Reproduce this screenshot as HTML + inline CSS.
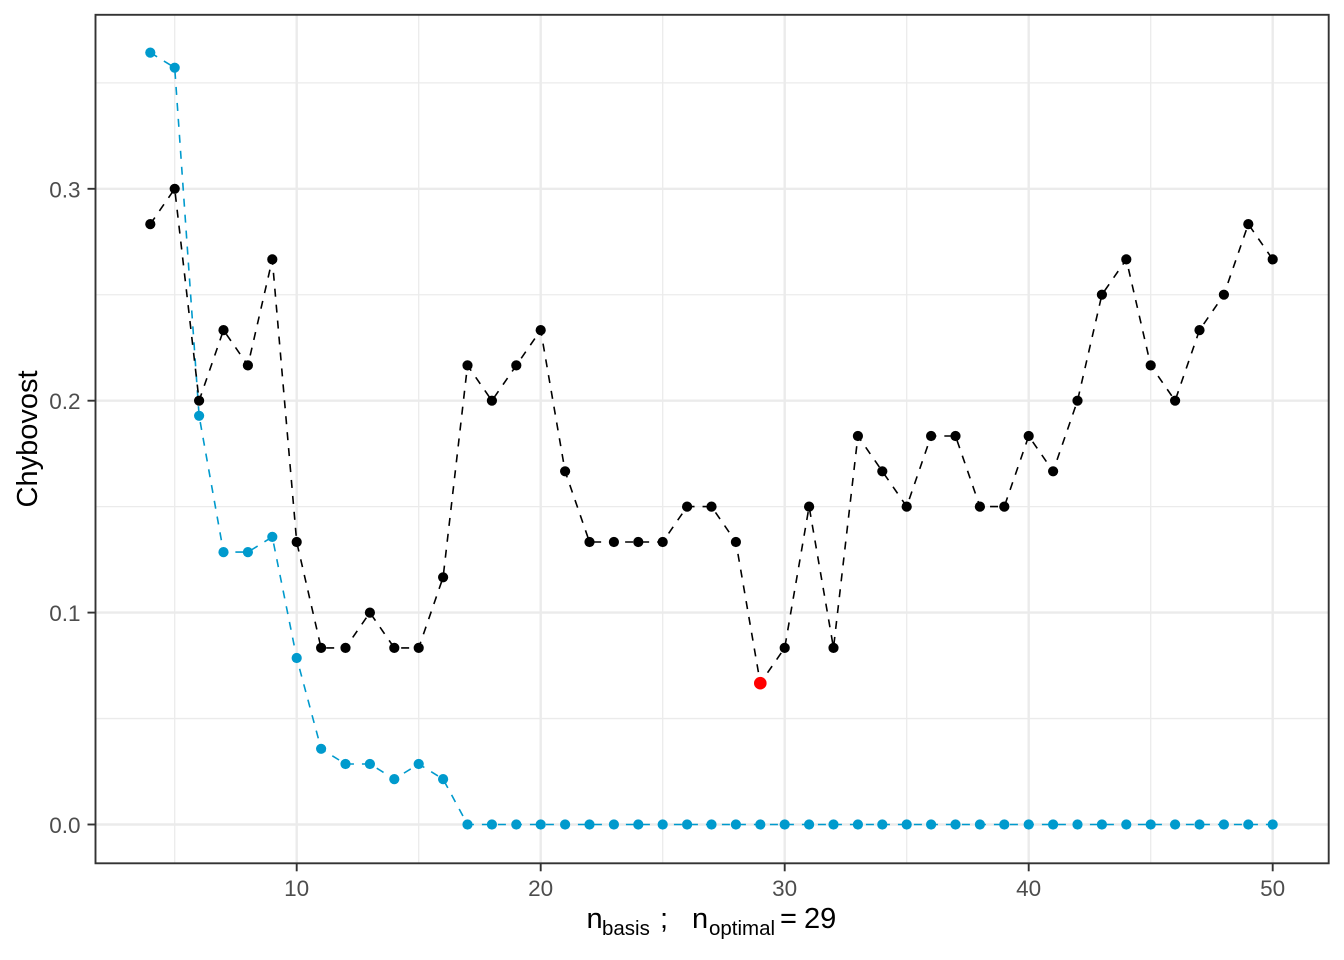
<!DOCTYPE html>
<html><head><meta charset="utf-8"><style>
html,body{margin:0;padding:0;background:#fff;}
svg{display:block;}
text{font-family:"Liberation Sans",Arial,sans-serif;}
</style></head><body>
<svg width="1344" height="960" viewBox="0 0 1344 960" xmlns="http://www.w3.org/2000/svg">
<rect width="1344" height="960" fill="#fff"/>
<!-- minor grid -->
<g stroke="#EBEBEB" stroke-width="1.3" fill="none">
<line x1="95.5" x2="1328.7" y1="718.55" y2="718.55"/>
<line x1="95.5" x2="1328.7" y1="506.65" y2="506.65"/>
<line x1="95.5" x2="1328.7" y1="294.75" y2="294.75"/>
<line x1="95.5" x2="1328.7" y1="82.85" y2="82.85"/>
<line y1="14.8" y2="863.3" x1="174.7" x2="174.7"/>
<line y1="14.8" y2="863.3" x1="418.7" x2="418.7"/>
<line y1="14.8" y2="863.3" x1="662.7" x2="662.7"/>
<line y1="14.8" y2="863.3" x1="906.7" x2="906.7"/>
<line y1="14.8" y2="863.3" x1="1150.7" x2="1150.7"/>
</g>
<!-- major grid -->
<g stroke="#EBEBEB" stroke-width="2.4" fill="none">
<line x1="95.5" x2="1328.7" y1="824.5" y2="824.5"/>
<line x1="95.5" x2="1328.7" y1="612.6" y2="612.6"/>
<line x1="95.5" x2="1328.7" y1="400.7" y2="400.7"/>
<line x1="95.5" x2="1328.7" y1="188.8" y2="188.8"/>
<line y1="14.8" y2="863.3" x1="296.7" x2="296.7"/>
<line y1="14.8" y2="863.3" x1="540.7" x2="540.7"/>
<line y1="14.8" y2="863.3" x1="784.7" x2="784.7"/>
<line y1="14.8" y2="863.3" x1="1028.7" x2="1028.7"/>
<line y1="14.8" y2="863.3" x1="1272.7" x2="1272.7"/>
</g>

<!-- blue series -->
<polyline fill="none" stroke="#009ACD" stroke-width="1.6" stroke-dasharray="8 8" points="150.3,52.6 174.7,67.7 199.1,415.8 223.5,552.1 247.9,552.1 272.3,536.9 296.7,658.0 321.1,748.8 345.5,764.0 369.9,764.0 394.3,779.1 418.7,764.0 443.1,779.1 467.5,824.5 491.9,824.5 516.3,824.5 540.7,824.5 565.1,824.5 589.5,824.5 613.9,824.5 638.3,824.5 662.7,824.5 687.1,824.5 711.5,824.5 735.9,824.5 760.3,824.5 784.7,824.5 809.1,824.5 833.5,824.5 857.9,824.5 882.3,824.5 906.7,824.5 931.1,824.5 955.5,824.5 979.9,824.5 1004.3,824.5 1028.7,824.5 1053.1,824.5 1077.5,824.5 1101.9,824.5 1126.3,824.5 1150.7,824.5 1175.1,824.5 1199.5,824.5 1223.9,824.5 1248.3,824.5 1272.7,824.5"/>
<g fill="#009ACD">
<circle cx="150.3" cy="52.6" r="5.1"/><circle cx="174.7" cy="67.7" r="5.1"/><circle cx="199.1" cy="415.8" r="5.1"/><circle cx="223.5" cy="552.1" r="5.1"/><circle cx="247.9" cy="552.1" r="5.1"/><circle cx="272.3" cy="536.9" r="5.1"/><circle cx="296.7" cy="658.0" r="5.1"/><circle cx="321.1" cy="748.8" r="5.1"/><circle cx="345.5" cy="764.0" r="5.1"/><circle cx="369.9" cy="764.0" r="5.1"/><circle cx="394.3" cy="779.1" r="5.1"/><circle cx="418.7" cy="764.0" r="5.1"/><circle cx="443.1" cy="779.1" r="5.1"/>
<circle cx="467.5" cy="824.5" r="5.1"/><circle cx="491.9" cy="824.5" r="5.1"/><circle cx="516.3" cy="824.5" r="5.1"/><circle cx="540.7" cy="824.5" r="5.1"/><circle cx="565.1" cy="824.5" r="5.1"/><circle cx="589.5" cy="824.5" r="5.1"/><circle cx="613.9" cy="824.5" r="5.1"/><circle cx="638.3" cy="824.5" r="5.1"/><circle cx="662.7" cy="824.5" r="5.1"/><circle cx="687.1" cy="824.5" r="5.1"/><circle cx="711.5" cy="824.5" r="5.1"/><circle cx="735.9" cy="824.5" r="5.1"/><circle cx="760.3" cy="824.5" r="5.1"/><circle cx="784.7" cy="824.5" r="5.1"/><circle cx="809.1" cy="824.5" r="5.1"/><circle cx="833.5" cy="824.5" r="5.1"/><circle cx="857.9" cy="824.5" r="5.1"/><circle cx="882.3" cy="824.5" r="5.1"/><circle cx="906.7" cy="824.5" r="5.1"/><circle cx="931.1" cy="824.5" r="5.1"/><circle cx="955.5" cy="824.5" r="5.1"/><circle cx="979.9" cy="824.5" r="5.1"/><circle cx="1004.3" cy="824.5" r="5.1"/><circle cx="1028.7" cy="824.5" r="5.1"/><circle cx="1053.1" cy="824.5" r="5.1"/><circle cx="1077.5" cy="824.5" r="5.1"/><circle cx="1101.9" cy="824.5" r="5.1"/><circle cx="1126.3" cy="824.5" r="5.1"/><circle cx="1150.7" cy="824.5" r="5.1"/><circle cx="1175.1" cy="824.5" r="5.1"/><circle cx="1199.5" cy="824.5" r="5.1"/><circle cx="1223.9" cy="824.5" r="5.1"/><circle cx="1248.3" cy="824.5" r="5.1"/><circle cx="1272.7" cy="824.5" r="5.1"/>
</g>

<!-- black series -->
<polyline fill="none" stroke="#000" stroke-width="1.6" stroke-dasharray="8 8" points="150.3,224.1 174.7,188.8 199.1,400.7 223.5,330.1 247.9,365.4 272.3,259.4 296.7,542.0 321.1,647.9 345.5,647.9 369.9,612.6 394.3,647.9 418.7,647.9 443.1,577.3 467.5,365.4 491.9,400.7 516.3,365.4 540.7,330.1 565.1,471.3 589.5,542.0 613.9,542.0 638.3,542.0 662.7,542.0 687.1,506.6 711.5,506.6 735.9,542.0 760.3,683.2 784.7,647.9 809.1,506.6 833.5,647.9 857.9,436.0 882.3,471.3 906.7,506.6 931.1,436.0 955.5,436.0 979.9,506.6 1004.3,506.6 1028.7,436.0 1053.1,471.3 1077.5,400.7 1101.9,294.7 1126.3,259.4 1150.7,365.4 1175.1,400.7 1199.5,330.1 1223.9,294.7 1248.3,224.1 1272.7,259.4"/>
<g fill="#000">
<circle cx="150.3" cy="224.1" r="5.1"/><circle cx="174.7" cy="188.8" r="5.1"/><circle cx="199.1" cy="400.7" r="5.1"/><circle cx="223.5" cy="330.1" r="5.1"/><circle cx="247.9" cy="365.4" r="5.1"/><circle cx="272.3" cy="259.4" r="5.1"/><circle cx="296.7" cy="542.0" r="5.1"/><circle cx="321.1" cy="647.9" r="5.1"/><circle cx="345.5" cy="647.9" r="5.1"/><circle cx="369.9" cy="612.6" r="5.1"/><circle cx="394.3" cy="647.9" r="5.1"/><circle cx="418.7" cy="647.9" r="5.1"/><circle cx="443.1" cy="577.3" r="5.1"/><circle cx="467.5" cy="365.4" r="5.1"/><circle cx="491.9" cy="400.7" r="5.1"/><circle cx="516.3" cy="365.4" r="5.1"/><circle cx="540.7" cy="330.1" r="5.1"/><circle cx="565.1" cy="471.3" r="5.1"/><circle cx="589.5" cy="542.0" r="5.1"/><circle cx="613.9" cy="542.0" r="5.1"/><circle cx="638.3" cy="542.0" r="5.1"/><circle cx="662.7" cy="542.0" r="5.1"/><circle cx="687.1" cy="506.6" r="5.1"/><circle cx="711.5" cy="506.6" r="5.1"/><circle cx="735.9" cy="542.0" r="5.1"/><circle cx="760.3" cy="683.2" r="5.1"/><circle cx="784.7" cy="647.9" r="5.1"/><circle cx="809.1" cy="506.6" r="5.1"/><circle cx="833.5" cy="647.9" r="5.1"/><circle cx="857.9" cy="436.0" r="5.1"/><circle cx="882.3" cy="471.3" r="5.1"/><circle cx="906.7" cy="506.6" r="5.1"/><circle cx="931.1" cy="436.0" r="5.1"/><circle cx="955.5" cy="436.0" r="5.1"/><circle cx="979.9" cy="506.6" r="5.1"/><circle cx="1004.3" cy="506.6" r="5.1"/><circle cx="1028.7" cy="436.0" r="5.1"/><circle cx="1053.1" cy="471.3" r="5.1"/><circle cx="1077.5" cy="400.7" r="5.1"/><circle cx="1101.9" cy="294.7" r="5.1"/><circle cx="1126.3" cy="259.4" r="5.1"/><circle cx="1150.7" cy="365.4" r="5.1"/><circle cx="1175.1" cy="400.7" r="5.1"/><circle cx="1199.5" cy="330.1" r="5.1"/><circle cx="1223.9" cy="294.7" r="5.1"/><circle cx="1248.3" cy="224.1" r="5.1"/><circle cx="1272.7" cy="259.4" r="5.1"/>
</g>
<circle cx="760.3" cy="683.2" r="6.3" fill="#FF0000"/>

<!-- panel border -->
<rect x="95.5" y="14.8" width="1233.2" height="848.5" fill="none" stroke="#333333" stroke-width="1.9"/>

<!-- ticks -->
<g stroke="#333333" stroke-width="1.9">
<line x1="87.5" x2="95.5" y1="824.5" y2="824.5"/>
<line x1="87.5" x2="95.5" y1="612.6" y2="612.6"/>
<line x1="87.5" x2="95.5" y1="400.7" y2="400.7"/>
<line x1="87.5" x2="95.5" y1="188.8" y2="188.8"/>
<line y1="863.3" y2="871.3" x1="296.7" x2="296.7"/>
<line y1="863.3" y2="871.3" x1="540.7" x2="540.7"/>
<line y1="863.3" y2="871.3" x1="784.7" x2="784.7"/>
<line y1="863.3" y2="871.3" x1="1028.7" x2="1028.7"/>
<line y1="863.3" y2="871.3" x1="1272.7" x2="1272.7"/>
</g>

<!-- tick labels -->
<g fill="#4D4D4D" font-size="22.5" text-anchor="end">
<text x="80.5" y="833">0.0</text>
<text x="80.5" y="621.1">0.1</text>
<text x="80.5" y="409.2">0.2</text>
<text x="80.5" y="197.3">0.3</text>
</g>
<g fill="#4D4D4D" font-size="22.5" text-anchor="middle">
<text x="296.7" y="896">10</text>
<text x="540.7" y="896">20</text>
<text x="784.7" y="896">30</text>
<text x="1028.7" y="896">40</text>
<text x="1272.7" y="896">50</text>
</g>

<!-- axis titles -->
<text transform="translate(37,439) rotate(-90)" text-anchor="middle" font-size="29" fill="#000">Chybovost</text>
<g fill="#000">
<text x="586.5" y="928" font-size="29">n</text>
<text x="602" y="935" font-size="20.5">basis</text>
<text x="660" y="928" font-size="29">;</text>
<text x="692" y="928" font-size="29">n</text>
<text x="709" y="935" font-size="20.5">optimal</text>
<text x="780" y="928" font-size="29">=</text>
<text x="804" y="928" font-size="29">29</text>
</g>
</svg>
</body></html>
